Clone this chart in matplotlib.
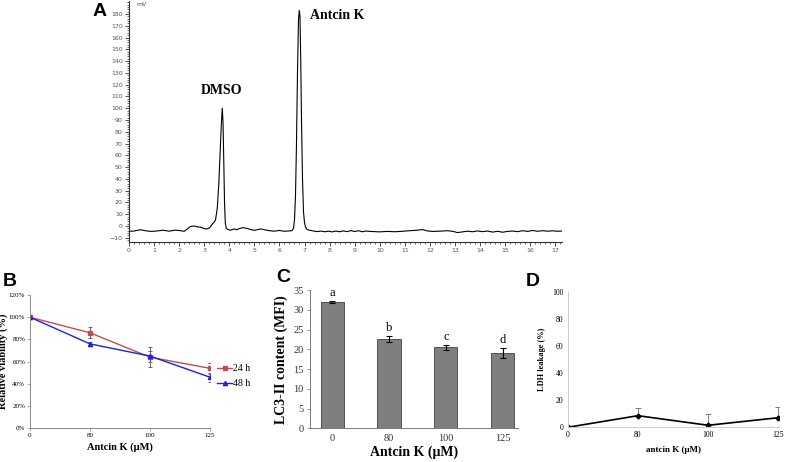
import matplotlib
matplotlib.use("Agg")
import matplotlib.pyplot as plt
from matplotlib.ticker import MultipleLocator
from matplotlib.lines import Line2D
import numpy as np

# ---------------- data ----------------
# Panel A: HPLC chromatogram (time in min, signal in mV)
chrom_t = [0.0, 0.2, 0.45, 0.7, 0.9, 1.1, 1.35, 1.6, 1.85, 2.05, 2.2, 2.33, 2.45, 2.6, 2.75,
           2.85, 3.0, 3.12, 3.22, 3.3, 3.38, 3.45, 3.52, 3.58, 3.63, 3.68, 3.72, 3.75, 3.78,
           3.81, 3.84, 3.88, 3.95, 4.05, 4.2, 4.3, 4.4, 4.55, 4.7, 4.85, 5.0, 5.1, 5.25, 5.45,
           5.6, 5.8, 6.0, 6.2, 6.35, 6.5, 6.56, 6.6, 6.64, 6.68, 6.72, 6.76, 6.79, 6.82, 6.85,
           6.88, 6.92, 6.96, 7.0, 7.04, 7.1, 7.2, 7.35, 7.5, 7.65, 7.8, 7.95, 8.1, 8.25, 8.4,
           8.55, 8.7, 8.85, 9.0, 9.15, 9.3, 9.45, 9.6, 9.8, 10.0, 10.3, 10.6, 10.9, 11.2, 11.5,
           11.7, 11.9, 12.1, 12.4, 12.7, 12.9, 13.1, 13.3, 13.5, 13.7, 13.9, 14.1, 14.3, 14.5,
           14.7, 14.9, 15.1, 15.3, 15.5, 15.7, 15.9, 16.1, 16.3, 16.5, 16.7, 16.9, 17.1, 17.25]
chrom_mv = [-4.5, -4.3, -3.2, -4.2, -4.6, -4.3, -3.6, -4.4, -3.5, -4.0, -4.5, -2.5, -0.4, 0.0, -0.8,
            -1.0, -2.2, -2.5, -1.5, 1.0, 3.0, 5.0, 15.0, 35.0, 60.0, 85.0, 100.0, 88.0, 55.0,
            20.0, 3.0, -2.0, -3.0, -3.6, -2.5, -3.2, -2.2, -1.4, -2.0, -3.0, -3.7, -3.2, -2.5, -3.4,
            -4.0, -4.4, -3.8, -4.5, -4.2, -4.0, -2.0, 5.0, 25.0, 70.0, 130.0, 175.0, 183.0, 178.0, 140.0,
            90.0, 40.0, 12.0, 3.0, -1.0, -3.0, -3.6, -4.2, -4.8, -4.3, -4.9, -4.4, -5.0, -4.3, -4.9,
            -4.2, -4.8, -3.9, -4.7, -4.0, -4.9, -4.3, -4.6, -4.8, -5.0, -4.6, -4.9, -4.5, -4.0, -3.6,
            -3.0, -4.2, -4.6, -4.4, -4.0, -4.5, -5.6, -5.0, -4.4, -4.9, -4.2, -4.8, -4.3, -5.2,
            -4.5, -5.3, -4.6, -4.3, -4.8, -4.0, -4.6, -3.8, -4.5, -4.0, -4.4, -4.1, -4.5, -4.3]

# Panel B: relative viability (%)
b_conc = ["0", "80", "100", "125"]
b_24h = [100, 86, 64, 54]
b_24h_err = [0.5, 5, 9, 5]
b_48h = [100, 76, 65, 46]
b_48h_err = [0.5, 2, 5, 4]

# Panel C: LC3-II content (MFI)
c_conc = ["0", "80", "100", "125"]
c_vals = [32.0, 22.6, 20.5, 19.0]
c_err = [0.2, 0.7, 0.6, 1.2]
c_letters = ["a", "b", "c", "d"]

# Panel D: LDH leakage (%)
d_conc = ["0", "80", "100", "125"]
d_vals = [0.0, 8.6, 1.5, 7.1]
d_err = [0.0, 5.7, 8.0, 8.0]

# ---------------- figure ----------------
W, H = 785, 462
fig = plt.figure(figsize=(W / 100, H / 100), dpi=100)
fig.patch.set_facecolor("white")

def ax_px(left, top, right, bottom):
    return fig.add_axes([left / W, 1 - bottom / H, (right - left) / W, (bottom - top) / H])

def fig_text(x, y, s, **kw):
    fig.text(x / W, 1 - y / H, s, **kw)

SERIF = "Liberation Serif"
SANS = "Liberation Sans"

# ---------------- Panel A ----------------
axA = ax_px(129, 1, 562, 242)
axA.plot(chrom_t, chrom_mv, color="black", lw=0.8)
axA.set_xlim(0, 17.27)
axA.set_ylim(-13.6, 191.0)
for s in ["top", "right"]:
    axA.spines[s].set_visible(False)
for s in ["left", "bottom"]:
    axA.spines[s].set_color("#333333")
    axA.spines[s].set_linewidth(0.8)
axA.xaxis.set_major_locator(MultipleLocator(1))
axA.xaxis.set_minor_locator(MultipleLocator(0.2))
axA.yaxis.set_major_locator(MultipleLocator(10))
axA.yaxis.set_minor_locator(MultipleLocator(2))
axA.tick_params(axis="both", which="major", labelsize=4.5, labelcolor="#555555",
                color="#333333", length=3, width=0.6, pad=1.5)
axA.tick_params(axis="both", which="minor", color="#333333", length=1.6, width=0.5)
axA.set_yticks(np.arange(-10, 181, 10))
axA.set_xticks(np.arange(0, 18, 1))
axA.text(3.7, 115, "DMSO", fontfamily=SERIF, fontweight="bold", fontsize=10,
         ha="center", va="center")
axA.text(7.22, 179, "Antcin K", fontfamily=SERIF, fontweight="bold", fontsize=10,
         ha="left", va="center")
axA.text(0.3, 188, "mV", fontsize=4.5, color="#555555", ha="left", va="center")
fig_text(100, 12, "A", fontfamily=SANS, fontweight="bold", fontsize=14, ha="center", va="center")

# ---------------- Panel B ----------------
axB = ax_px(30, 295, 210, 428.3)
xb = np.arange(len(b_conc))
c24, c48 = "#c0504d", "#1f1fe6"
axB.errorbar(xb, b_24h, yerr=b_24h_err, color=c24, marker="s", ms=2.8, lw=1.0,
             ecolor="#555555", elinewidth=0.6, capsize=1.5, capthick=0.6)
axB.errorbar(xb, b_48h, yerr=b_48h_err, color=c48, marker="^", ms=3.0, lw=1.0,
             ecolor="#555555", elinewidth=0.6, capsize=1.5, capthick=0.6)
axB.set_xlim(0, 3)
axB.set_ylim(0, 120)
axB.set_xticks(xb)
axB.set_xticklabels(b_conc)
axB.set_yticks(np.arange(0, 121, 20))
axB.set_yticklabels([f"{v}%" for v in range(0, 121, 20)])
for s in ["top", "right"]:
    axB.spines[s].set_visible(False)
for s in ["left", "bottom"]:
    axB.spines[s].set_color("#888888")
    axB.spines[s].set_linewidth(0.7)
axB.tick_params(axis="both", labelsize=5, length=2, width=0.5, color="#888888", pad=1.5)
for lab in axB.get_xticklabels() + axB.get_yticklabels():
    lab.set_fontfamily(SERIF)
axB.set_xlabel("Antcin K (μM)", fontfamily=SERIF, fontweight="bold", fontsize=7.5, labelpad=3)
axB.set_ylabel("Relative viability (%)", fontfamily=SERIF, fontweight="bold", fontsize=7.5)
axB.yaxis.set_label_coords(-0.12, 0.5)
handles = [Line2D([], [], color=c24, marker="s", ms=2.8, lw=1.0),
           Line2D([], [], color=c48, marker="^", ms=3.0, lw=1.0)]
axB.legend(handles, ["24 h", "48 h"], loc="center left", bbox_to_anchor=(1.0, 0.39),
           frameon=False, prop={"family": SERIF, "size": 7}, handlelength=1.6,
           handletextpad=0.1, labelspacing=0.6, borderaxespad=0.3)
fig_text(10, 282, "B", fontfamily=SANS, fontweight="bold", fontsize=14, ha="center", va="center")

# ---------------- Panel C ----------------
axC = ax_px(310, 290, 518, 428.3)
xc = np.arange(len(c_conc))
axC.bar(xc, c_vals, width=0.41, color="#7f7f7f", edgecolor="#404040", linewidth=0.6)
axC.errorbar(xc, c_vals, yerr=c_err, fmt="none", ecolor="black", elinewidth=0.8,
             capsize=2, capthick=0.8)
for x, v, e, l in zip(xc, c_vals, c_err, c_letters):
    axC.text(x, v + e + 0.6, l, fontfamily=SERIF, fontsize=9, ha="center", va="bottom")
axC.set_xlim(-0.39, 3.27)
axC.set_ylim(0, 35)
axC.set_xticks(xc)
axC.set_xticklabels(c_conc)
axC.set_yticks(np.arange(0, 36, 5))
for s in ["top", "right"]:
    axC.spines[s].set_visible(False)
for s in ["left", "bottom"]:
    axC.spines[s].set_color("#777777")
    axC.spines[s].set_linewidth(0.7)
axC.tick_params(axis="y", labelsize=7.5, length=2.5, width=0.5, color="#777777", pad=2,
                labelcolor="#333333")
axC.tick_params(axis="x", labelsize=7.5, length=0, pad=4, labelcolor="#333333")
for lab in axC.get_xticklabels() + axC.get_yticklabels():
    lab.set_fontfamily(SERIF)
axC.set_xlabel("Antcin K (μM)", fontfamily=SERIF, fontweight="bold", fontsize=10, labelpad=2)
axC.set_ylabel("LC3-II content (MFI)", fontfamily=SERIF, fontweight="bold", fontsize=10, labelpad=4)
fig_text(283, 277, "C", fontfamily=SANS, fontweight="bold", fontsize=14, ha="center", va="center")

# ---------------- Panel D ----------------
axD = ax_px(567.7, 292.3, 779, 427.3)
xd = np.arange(len(d_conc))
axD.errorbar(xd, d_vals, yerr=[np.zeros(len(d_err)), d_err], color="black", marker="D",
             ms=2.5, lw=1.2, ecolor="#666666", elinewidth=0.6, capsize=2, capthick=0.6)
axD.set_xlim(0, 3.01)
axD.set_ylim(0, 100)
axD.set_xticks(xd)
axD.set_xticklabels(d_conc)
axD.set_yticks(np.arange(0, 101, 20))
for s in ["top", "right"]:
    axD.spines[s].set_visible(False)
for s in ["left", "bottom"]:
    axD.spines[s].set_color("#cccccc")
    axD.spines[s].set_linewidth(0.7)
axD.tick_params(axis="both", labelsize=5.5, length=0, pad=3)
for lab in axD.get_xticklabels() + axD.get_yticklabels():
    lab.set_fontfamily(SERIF)
axD.set_xlabel("antcin K (μM)", fontfamily=SERIF, fontweight="bold", fontsize=6.5, labelpad=5)
axD.set_ylabel("LDH leakage (%)", fontfamily=SERIF, fontweight="bold", fontsize=6)
axD.yaxis.set_label_coords(-0.105, 0.5)
fig_text(533, 282, "D", fontfamily=SANS, fontweight="bold", fontsize=14, ha="center", va="center")

fig.savefig("out.png", dpi=100, facecolor="white")
